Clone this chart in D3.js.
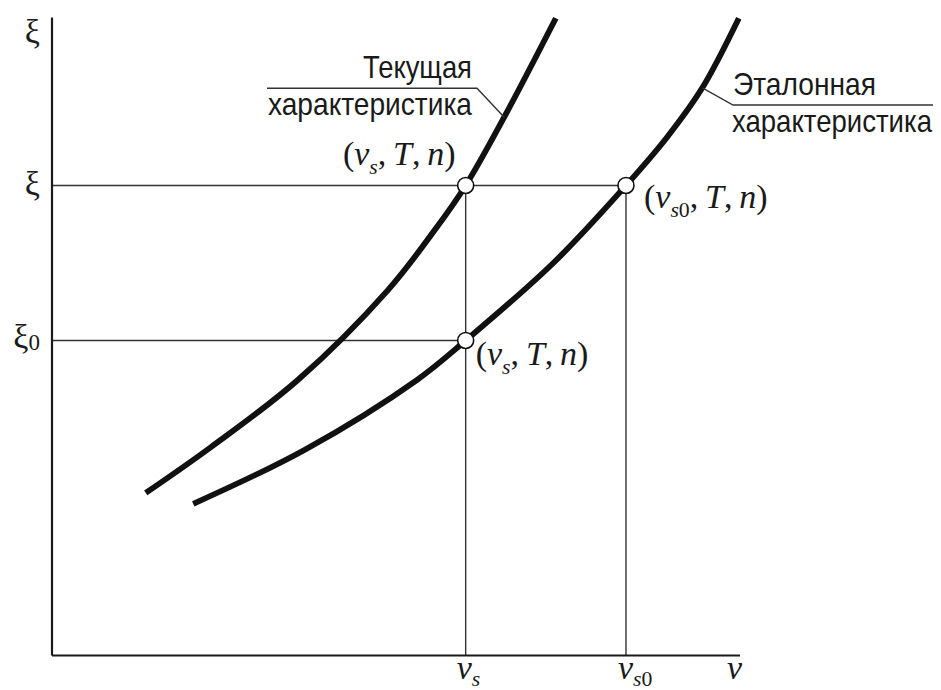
<!DOCTYPE html>
<html>
<head>
<meta charset="utf-8">
<script src="https://cdn.jsdelivr.net/npm/d3@7"></script>
<style>
  html, body { margin: 0; padding: 0; background: #fff; }
  svg { display: block; }
  .serif { font-family: "Liberation Serif", "DejaVu Serif", serif; fill: #1a1a1a; }
  .sans { font-family: "Liberation Sans", Arial, sans-serif; fill: #1a1a1a; }
</style>
</head>
<body>
<svg id="chart" width="941" height="690"></svg>
<script>
// Speed v (horizontal) and ξ (vertical), arbitrary units 0..10
const vMarks = [6.02, 8.35];          // v_s, v_s0
const xiMarks = [7.36, 4.93];         // ξ, ξ0

// Current characteristic (upper-left curve)
const currentV  = [1.37, 2.32, 3.58, 4.89, 5.57, 6.02, 6.58, 7.33];
const currentXi = [2.54, 3.26, 4.31, 5.72, 6.66, 7.36, 8.43, 9.98];

// Reference characteristic (lower-right curve)
const referenceV  = [2.06, 3.67, 5.31, 6.02, 7.29, 8.35, 8.95, 9.46, 9.99];
const referenceXi = [2.37, 3.21, 4.31, 4.93, 6.14, 7.36, 8.12, 8.89, 9.98];

// Operating points (v, ξ)
const pointV  = [6.02, 8.35, 6.02];
const pointXi = [7.36, 7.36, 4.93];

const svg = d3.select("#chart");
const x = d3.scaleLinear().domain([0, 10]).range([51.5, 739.5]);
const y = d3.scaleLinear().domain([0, 10]).range([655, 17]);

const ink = "#1a1a1a";

// guide lines from the axes to the operating points
const g = svg.append("g").attr("stroke", "#333").attr("stroke-width", 1.4).attr("fill", "none");
// ξ level: from axis to v_s0
g.append("line").attr("x1", x(0)).attr("x2", x(vMarks[1])).attr("y1", y(xiMarks[0])).attr("y2", y(xiMarks[0]));
// ξ0 level: from axis to v_s
g.append("line").attr("x1", x(0)).attr("x2", x(vMarks[0])).attr("y1", y(xiMarks[1])).attr("y2", y(xiMarks[1]));
// verticals at v_s and v_s0
vMarks.forEach(v => {
  g.append("line").attr("x1", x(v)).attr("x2", x(v)).attr("y1", y(xiMarks[0])).attr("y2", y(0));
});

// axes
svg.append("g").attr("transform", `translate(0,${y(0)})`)
  .call(d3.axisBottom(x).tickValues([]).tickSizeOuter(0))
  .select(".domain").attr("stroke", ink).attr("stroke-width", 2.2);
svg.append("g").attr("transform", `translate(${x(0)},0)`)
  .call(d3.axisLeft(y).tickValues([]).tickSizeOuter(0))
  .select(".domain").attr("stroke", ink).attr("stroke-width", 2.2);

// characteristic curves
const line = d3.line().x(d => x(d[0])).y(d => y(d[1])).curve(d3.curveCatmullRom.alpha(0.5));
const curves = [d3.zip(currentV, currentXi), d3.zip(referenceV, referenceXi)];
svg.append("g").selectAll("path").data(curves).join("path")
  .attr("d", line)
  .attr("fill", "none").attr("stroke", "#111").attr("stroke-width", 5.8)
  .attr("stroke-linecap", "butt");

// operating point markers
svg.append("g").selectAll("circle").data(d3.zip(pointV, pointXi)).join("circle")
  .attr("cx", d => x(d[0])).attr("cy", d => y(d[1])).attr("r", 8)
  .attr("fill", "#fff").attr("stroke", "#111").attr("stroke-width", 1.6);

// math label helper: parts = [text, italic?, subscript?]
function mathText(sel, parts, size, shiftPx) {
  const sub = size * 0.64, shift = shiftPx || size * 0.26;
  let low = false;
  parts.forEach(([t, it, isSub]) => {
    const ts = sel.append("tspan").text(t)
      .attr("font-style", it ? "italic" : "normal")
      .attr("font-size", isSub ? sub : size);
    if (isSub && !low) { ts.attr("dy", shift); low = true; }
    else if (!isSub && low) { ts.attr("dy", -shift); low = false; }
  });
}

const S = 34;
// axis titles and level labels
const yLab = svg.append("text").attr("class", "serif").attr("text-anchor", "end")
  .attr("x", 40).attr("y", y(10) + 26).attr("font-size", S);
mathText(yLab, [["ξ", false, false]], S);

const xi1 = svg.append("text").attr("class", "serif").attr("text-anchor", "end")
  .attr("x", 40).attr("y", y(xiMarks[0]) + 10).attr("font-size", S);
mathText(xi1, [["ξ", false, false]], S);

const xi0 = svg.append("text").attr("class", "serif").attr("text-anchor", "end")
  .attr("x", 40).attr("y", y(xiMarks[1]) + 8).attr("font-size", S);
xi0.append("tspan").text("ξ");
xi0.append("tspan").text("0").attr("font-size", 23).attr("dy", 2);

// v tick labels
const vs = svg.append("text").attr("class", "serif").attr("x", x(vMarks[0]) - 9).attr("y", 679).attr("font-size", S);
mathText(vs, [["v", true, false], ["s", true, true]], S, 7);
const vs0 = svg.append("text").attr("class", "serif").attr("x", x(vMarks[1]) - 8).attr("y", 679).attr("font-size", S);
mathText(vs0, [["v", true, false], ["s", true, true], ["0", false, true]], S, 7);
svg.append("text").attr("class", "serif").attr("text-anchor", "middle")
  .attr("x", x(10) - 5).attr("y", 679).attr("font-size", S).attr("font-style", "italic").text("v");

// point labels
const thin = "\u2009";
function pointLabel(xp, yp, anchor, subParts) {
  const t = svg.append("text").attr("class", "serif").attr("x", xp).attr("y", yp)
    .attr("text-anchor", anchor).attr("font-size", S);
  mathText(t, [["(", false, false], ["v", true, false], ...subParts,
               [","+thin, false, false], ["T", true, false], [","+thin, false, false],
               ["n", true, false], [")", false, false]], S);
}
pointLabel(x(pointV[0]) - 10, y(pointXi[0]) - 20, "end", [["s", true, true]]);
pointLabel(x(pointV[1]) + 18, y(pointXi[1]) + 23, "start", [["s", true, true], ["0", false, true]]);
pointLabel(x(pointV[2]) + 10, y(pointXi[2]) + 25, "start", [["s", true, true]]);

// caption text squeezed horizontally to a given width (narrow sans look)
function caption(txt, xLeft, yBase, width) {
  const grp = svg.append("g");
  const t = grp.append("text").attr("class", "sans").attr("font-size", 32)
    .attr("x", 0).attr("y", 0).text(txt);
  const natural = t.node().getComputedTextLength();
  grp.attr("transform", `translate(${xLeft},${yBase}) scale(${width / natural},1)`);
}

// curve captions with leader lines
const lead = svg.append("g").attr("stroke", "#333").attr("stroke-width", 1.4).attr("fill", "none");
// current characteristic: attached where the curve reaches ξ = 8.43
const cA = [x(currentV[6]), y(currentXi[6])];
lead.append("polyline").attr("points", [[267, 88.3], [477, 88.3], cA].map(p => p.join(",")).join(" "));
caption("Текущая", 363, 78, 109);
caption("характеристика", 268, 115, 204);

// reference characteristic: attached where the curve reaches ξ = 8.89
const rA = [x(referenceV[7]), y(referenceXi[7])];
lead.append("polyline").attr("points", [rA, [733, 105], [933, 105]].map(p => p.join(",")).join(" "));
caption("Эталонная", 733, 95, 143);
caption("характеристика", 732, 132, 200);
</script>
</body>
</html>
